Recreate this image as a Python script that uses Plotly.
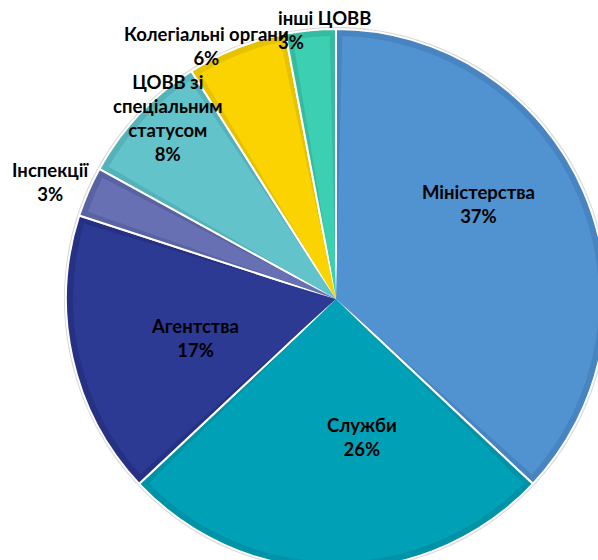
import plotly.graph_objects as go

# Data
labels = ['Міністерства', 'Служби', 'Агентства', 'Інспекції',
          'ЦОВВ зі спеціальним статусом', 'Колегіальні органи', 'інші ЦОВВ']
label_lines = ['Міністерства', 'Служби', 'Агентства', 'Інспекції',
               'ЦОВВ зі<br>спеціальним<br>статусом', 'Колегіальні органи', 'інші ЦОВВ']
shares = [37, 26, 17, 3, 8, 6, 3]

light_colors = ['#5192d0', '#00a0b6', '#2d3a94', '#6670b3', '#62c3cb', '#fad300', '#3dcfb1']
dark_colors = ['#4784c0', '#0092a7', '#263183', '#5a63a2', '#56b2b9', '#e6c200', '#35bb9f']

# Canvas is a bit larger than the window, the pie runs off the right/bottom
W, H = 620, 580
cx, cy, R = 336, 299, 270


def domain(r):
    return dict(x=[(cx - r) / W, (cx + r) / W],
                y=[1 - (cy + r) / H, 1 - (cy - r) / H])


fig = go.Figure()

# faint grey halo round the pie
fig.add_trace(go.Pie(
    values=[sum(shares)], marker=dict(colors=['#d8d8d8']),
    domain=domain(R + 2), textinfo='none', sort=False, hoverinfo='skip',
    showlegend=False
))

# darker full slices with white separators
fig.add_trace(go.Pie(
    labels=labels, values=shares, sort=False, direction='clockwise',
    marker=dict(colors=dark_colors, line=dict(color='white', width=2)),
    domain=domain(R), textinfo='none', showlegend=False
))

# lighter inset of each slice (dark band left round the edges)
total = sum(shares)
g = total * 0.0038
inner_vals, inner_cols = [], []
for v, c in zip(shares, light_colors):
    inner_vals += [g, v - 2 * g, g]
    inner_cols += ['rgba(0,0,0,0)', c, 'rgba(0,0,0,0)']
fig.add_trace(go.Pie(
    values=inner_vals, sort=False, direction='clockwise',
    marker=dict(colors=inner_cols, line=dict(width=0)),
    domain=domain(R - 7), textinfo='none', hoverinfo='skip', showlegend=False
))

# label positions (pixels in the canvas)
label_pos = [(478, 204), (362, 437), (195, 338), (51, 182), (167, 118), (206, 46)]
font = dict(family='Lato', size=18.5, color='black')
for name, pct, (px, py) in zip(label_lines[:6], shares[:6], label_pos):
    fig.add_annotation(
        text=f'<b>{name}<br>{pct}%</b>', x=px / W, y=1 - py / H,
        xref='paper', yref='paper', showarrow=False, font=font,
        align='center', xanchor='center', yanchor='middle'
    )
# "інші ЦОВВ" is left aligned in the original
fig.add_annotation(
    text=f'<b>{label_lines[6]}<br>{shares[6]}%</b>', x=276 / W, y=1 - 30 / H,
    xref='paper', yref='paper', showarrow=False, font=font,
    align='left', xanchor='left', yanchor='middle'
)

fig.update_layout(
    width=W, height=H,
    margin=dict(l=0, r=0, t=0, b=0),
    paper_bgcolor='white', plot_bgcolor='white'
)

fig.write_html("out.html", config={'displayModeBar': False}, post_script=(
    "document.body.style.margin='0';"
    "document.body.style.overflow='hidden';"
    "document.documentElement.style.overflow='hidden';"
))
